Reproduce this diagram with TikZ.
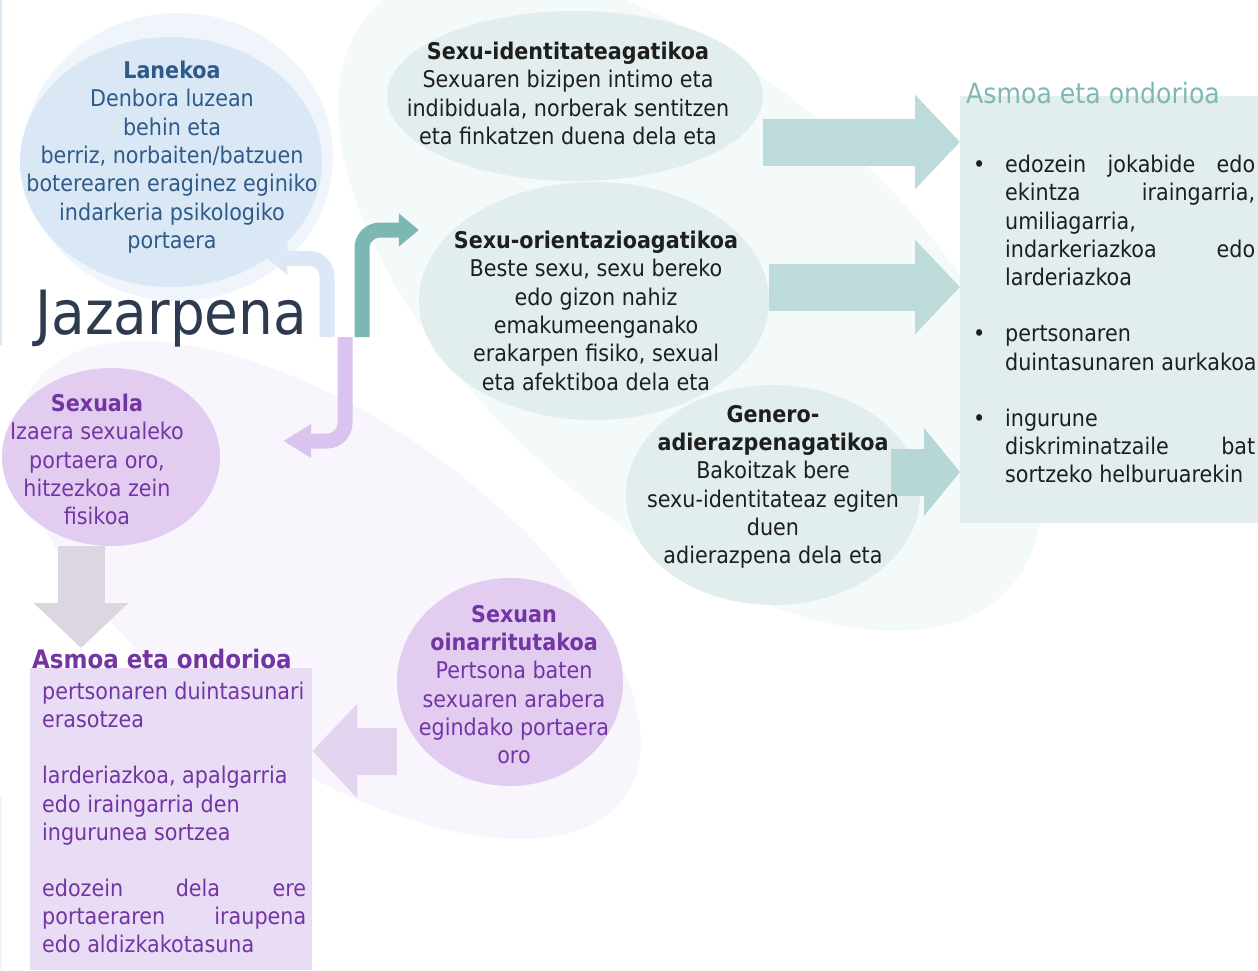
\documentclass[tikz,border=0pt]{standalone}
\usepackage{fontspec}
\setmainfont{DejaVu Sans}[FakeStretch=0.9]
\usetikzlibrary{arrows.meta, positioning, shapes.geometric}

\definecolor{tealBg}{HTML}{F4F9F9}
\definecolor{lilacBg}{HTML}{F8F5FC}
\definecolor{blueHalo}{HTML}{F0F5FB}
\definecolor{blueFill}{HTML}{DAE7F4}
\definecolor{blueText}{HTML}{2E5B89}
\definecolor{blueBent}{HTML}{DCE8F5}
\definecolor{tealFill}{HTML}{E2EEEE}
\definecolor{tealArrow}{HTML}{BDDBDA}
\definecolor{tealArrowDeep}{HTML}{B6D7D6}
\definecolor{tealBent}{HTML}{7DB7B3}
\definecolor{tealTitle}{HTML}{7EB8B4}
\definecolor{lilacFill}{HTML}{E2CDF0}
\definecolor{lilacBox}{HTML}{E9DCF5}
\definecolor{lilacArrow}{HTML}{E3D5F0}
\definecolor{lilacBent}{HTML}{DAC3EE}
\definecolor{greyArrow}{HTML}{DCD5E2}
\definecolor{purpleText}{HTML}{7435A4}
\definecolor{inkText}{HTML}{1E1E1E}
\definecolor{slateText}{HTML}{2E3B4F}

\begin{document}
\begin{tikzpicture}[x=1pt, y=-1pt,
    bubble/.style={ellipse, inner sep=0pt},
    txt/.style={align=center, inner sep=0pt, anchor=north, font=\fontsize{23}{28.3}\selectfont},
    fat/.style={line width=47pt, -{Triangle[length=45pt, width=92pt]}},
    bent/.style={line width=15pt, rounded corners=18pt, -{Triangle[length=20pt, width=32pt]}}]
    \useasboundingbox (0,0) rectangle (1258,970);

    % pale backgrounds
    \node[bubble, fill=tealBg, minimum width=860, minimum height=440, rotate=-42] (tealBack) at (690,300) {};
    \node[bubble, fill=lilacBg, minimum width=720, minimum height=340, rotate=-35] (lilacBack) at (330,590) {};
    \node[bubble, fill=blueHalo, minimum width=310, minimum height=288] (halo) at (178,157) {};
    \draw[blueFill, line width=2pt] (1,0) -- (1,345);
    \draw[blueHalo, line width=2pt] (1,795) -- (1,970);

    % bubbles
    \node[bubble, fill=blueFill, minimum width=302, minimum height=250] (lanekoa) at (171,162) {};
    \node[bubble, fill=tealFill, minimum width=376, minimum height=170] (identity) at (575,96) {};
    \node[bubble, fill=tealFill, minimum width=350, minimum height=238] (orient) at (594,301) {};
    \node[bubble, fill=tealFill, minimum width=294, minimum height=220] (gender) at (773,495) {};
    \node[bubble, fill=lilacFill, minimum width=218, minimum height=178] (sexual) at (111,457) {};
    \node[bubble, fill=lilacFill, minimum width=226, minimum height=208] (sexbased) at (510,682) {};

    % boxes
    \node[fill=tealFill, minimum width=298, minimum height=427, anchor=north west, inner sep=0pt] (result) at (960,96) {};
    \node[fill=lilacBox, minimum width=282, minimum height=302, anchor=north west, inner sep=0pt] (leftbox) at (30,668) {};

    % block arrows
    \coordinate (a1) at ([yshift=-46pt]identity.east);
    \coordinate (a2) at ([yshift=14pt]orient.east);
    \coordinate (a3) at ([xshift=-29pt, yshift=23pt]gender.east);
    \coordinate (d1) at ([xshift=-30pt]sexual.south);
    \coordinate (l1) at ([yshift=-69pt]sexbased.west);
    \draw[fat, tealArrow] (a1) -- (a1 -| result.west);
    \draw[fat, tealArrow] (a2) -- (a2 -| result.west);
    \draw[fat, tealArrowDeep, -{Triangle[length=36pt, width=86pt]}] (a3) -- (a3 -| result.west);
    \draw[fat, greyArrow] (d1) -- ([yshift=20pt]d1 |- leftbox.north);
    \draw[fat, lilacArrow] (l1) -- (l1 -| leftbox.east);

    % bent arrows
    \coordinate (hub) at (345,337);
    \draw[bent, blueBent] ([xshift=-18pt]hub) |- (lanekoa.-45);
    \draw[bent, tealBent] ([xshift=17pt]hub) |- ([yshift=71pt]orient.west);
    \draw[bent, lilacBent, -{Triangle[length=28pt, width=32pt]}] (hub) |- ([xshift=63pt, yshift=16pt]sexual.east);

    % texts
    \node[anchor=base west, inner sep=0pt, text=slateText, font=\fontsize{61}{64}\selectfont] (jazarpena) at (35,334) {Jazarpena};
    \node[txt, text=blueText] (lanekoaTxt) at (172,61) {\textbf{Lanekoa}\\Denbora luzean\\behin eta\\berriz, norbaiten/batzuen\\boterearen eraginez eginiko\\indarkeria psikologiko\\portaera};
    \node[txt, text=inkText] (identityTxt) at (568,42) {\textbf{Sexu-identitateagatikoa}\\Sexuaren bizipen intimo eta\\indibiduala, norberak sentitzen\\eta finkatzen duena dela eta};
    \node[txt, text=inkText] (orientTxt) at (596,231) {\textbf{Sexu-orientazioagatikoa}\\Beste sexu, sexu bereko\\edo gizon nahiz\\emakumeenganako\\erakarpen fisiko, sexual\\eta afektiboa dela eta};
    \node[txt, text=inkText] (genderTxt) at (773,405) {\textbf{Genero-}\\\textbf{adierazpenagatikoa}\\Bakoitzak bere\\sexu-identitateaz egiten\\duen\\adierazpena dela eta};
    \node[txt, text=purpleText] (sexualTxt) at (97,394) {\textbf{Sexuala}\\Izaera sexualeko\\portaera oro,\\hitzezkoa zein\\fisikoa};
    \node[txt, text=purpleText] (sexbasedTxt) at (514,605) {\textbf{Sexuan}\\\textbf{oinarritutakoa}\\Pertsona baten\\sexuaren arabera\\egindako portaera\\oro};

    \node[anchor=base west, inner sep=0pt, text=tealTitle, font=\fontsize{28}{30}\selectfont] (resultTitle) at (966,103) {Asmoa eta ondorioa};
    \node[anchor=north west, inner sep=0pt, align=left, text=inkText, font=\fontsize{23}{28.2}\selectfont] (resultTxt) at (1005,155)
        {\llap{•\hspace{20pt}}\makebox[250pt][s]{edozein jokabide edo}\\
         \makebox[250pt][s]{ekintza iraingarria,}\\
         umiliagarria,\\
         \makebox[250pt][s]{indarkeriazkoa edo}\\
         larderiazkoa\\[28.2pt]
         \llap{•\hspace{20pt}}pertsonaren\\
         duintasunaren aurkakoa\\[28.2pt]
         \llap{•\hspace{20pt}}ingurune\\
         \makebox[250pt][s]{diskriminatzaile bat}\\
         sortzeko helburuarekin};

    \node[anchor=base west, inner sep=0pt, text=purpleText, font=\bfseries\fontsize{25.5}{28}\selectfont] (leftTitle) at (32,668) {Asmoa eta ondorioa};
    \node[anchor=north west, inner sep=0pt, align=left, text=purpleText, font=\fontsize{23}{28.1}\selectfont] (leftTxt) at (42,682)
        {pertsonaren duintasunari\\
         erasotzea\\[28.1pt]
         larderiazkoa, apalgarria\\
         edo iraingarria den\\
         ingurunea sortzea\\[28.1pt]
         \makebox[264pt][s]{edozein dela ere}\\
         \makebox[264pt][s]{portaeraren iraupena}\\
         edo aldizkakotasuna};
\end{tikzpicture}
\end{document}
